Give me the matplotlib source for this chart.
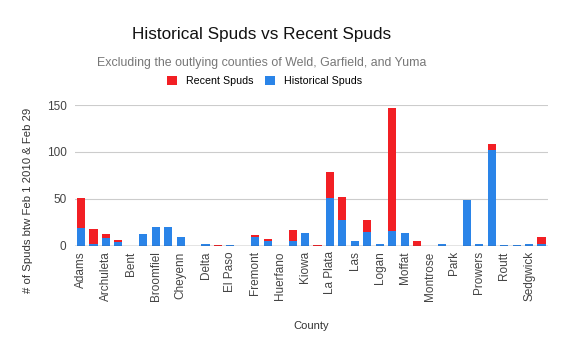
import matplotlib
matplotlib.use('Agg')
import matplotlib.pyplot as plt
import numpy as np

plt.rcParams['font.family'] = ['Liberation Sans', 'DejaVu Sans']

counties = ['Adams', 'Arapahoe', 'Archuleta', 'Baca', 'Bent', 'Boulder', 'Broomfiel',
            'Chaffee', 'Cheyenn', 'Crowley', 'Delta', 'Dolores', 'El Paso', 'Elbert',
            'Fremont', 'Gunnison', 'Huerfano', 'Jackson', 'Kiowa', 'Kit Carson',
            'La Plata', 'Larimer', 'Las', 'Lincoln', 'Logan', 'Mesa', 'Moffat',
            'Montezuma', 'Montrose', 'Morgan', 'Park', 'Phillips', 'Prowers',
            'Rio Blanco', 'Routt', 'San Miguel', 'Sedgwick', 'Washington']
historical = [19, 2, 8, 4, 0, 12, 20, 20, 9, 0, 2, 0, 1, 0, 9, 5, 0, 5, 14, 0,
              51, 27, 5, 15, 2, 16, 14, 0, 0, 2, 0, 49, 2, 102, 1, 1, 2, 2]
recent = [32, 16, 4, 2, 0, 0, 0, 0, 0, 0, 0, 1, 0, 0, 2, 2, 0, 12, 0, 1,
          28, 25, 0, 12, 0, 131, 0, 5, 0, 0, 0, 0, 0, 6, 0, 0, 0, 7]

RED = '#f21f24'
BLUE = '#2a84e8'

fig = plt.figure(figsize=(5.67, 3.5), dpi=100)
ax = fig.add_axes([0.132, 0.298, 0.834, 0.402])

x = np.arange(len(counties))
ax.bar(x, historical, width=0.65, color=BLUE, zorder=3, label='Historical Spuds')
ax.bar(x, recent, width=0.65, bottom=historical, color=RED, zorder=3, label='Recent Spuds')

ax.set_xlim(-0.5, len(counties) - 0.5)
ax.set_ylim(0, 150)
ax.set_yticks([0, 50, 100, 150])
ax.grid(axis='y', color='#cccccc', lw=0.8, zorder=0)
ax.axhline(0, color='#444444', lw=0.9, zorder=4)
for sp in ax.spines.values():
    sp.set_visible(False)
ax.tick_params(axis='both', length=0, labelsize=8.5, colors='#444444')
ax.tick_params(axis='y', pad=6)
ax.tick_params(axis='x', pad=4)
ax.set_xticks(x[::2])
ax.set_xticklabels(counties[::2], rotation=90)

ax.set_ylabel('# of Spuds btw Feb 1 2010 & Feb 29', fontsize=8.2, color='#333333')
ax.yaxis.set_label_coords(-0.088, 0.325)
ax.set_xlabel('County', fontsize=8, color='#333333', labelpad=14)

# header is centred a bit left of the figure middle
fig.text(0.461, 0.9, 'Historical Spuds vs Recent Spuds', ha='center', va='center',
         fontsize=12.3, color='#111111')
fig.text(0.461, 0.82, 'Excluding the outlying counties of Weld, Garfield, and Yuma',
         ha='center', va='center', fontsize=8.9, color='#777777')

h, l = ax.get_legend_handles_labels()
fig.legend(h[::-1], l[::-1], loc='center', bbox_to_anchor=(0.4665, 0.768), ncol=2,
           frameon=False, fontsize=7.7, handlelength=0.9, handleheight=0.9,
           columnspacing=1.15, handletextpad=0.8)

plt.savefig('out.png', dpi=100)
